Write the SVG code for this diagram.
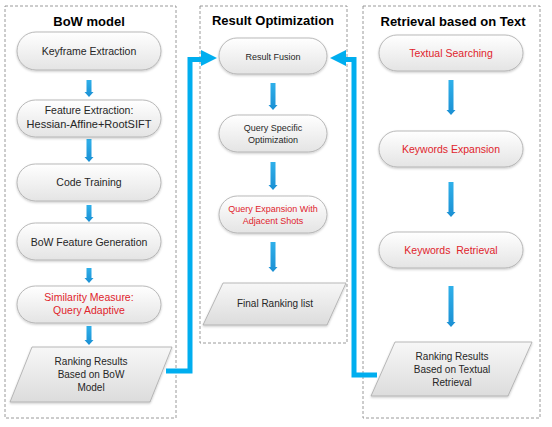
<svg xmlns="http://www.w3.org/2000/svg" width="552" height="427" viewBox="0 0 552 427">
<defs>
<linearGradient id="gNode" x1="0" y1="0" x2="0" y2="1">
<stop offset="0" stop-color="#ffffff"/>
<stop offset="1" stop-color="#e4e4e4"/>
</linearGradient>
<linearGradient id="gPara" x1="0" y1="0" x2="0" y2="1">
<stop offset="0" stop-color="#f7f7f7"/>
<stop offset="1" stop-color="#dcdcdc"/>
</linearGradient>
<linearGradient id="gArr" x1="0" y1="0" x2="0" y2="1">
<stop offset="0" stop-color="#2fb0ea"/>
<stop offset="1" stop-color="#1a8fd3"/>
</linearGradient>
<filter id="sh" x="-10%" y="-20%" width="120%" height="150%">
<feDropShadow dx="0" dy="1.2" stdDeviation="0.9" flood-color="#000" flood-opacity="0.22"/>
</filter>
</defs>
<style>
.panel{fill:none;stroke:#8f8f8f;stroke-width:0.9;stroke-dasharray:3 2}
.node{fill:url(#gNode);stroke:#a8a8a8;stroke-width:0.8;filter:url(#sh)}
.para{fill:url(#gPara);stroke:#a8a8a8;stroke-width:0.8;filter:url(#sh)}
.title{font-family:"Liberation Sans",Arial,sans-serif;font-weight:bold;font-size:13px;fill:#000;text-anchor:middle}
.t{font-family:"Liberation Sans",Arial,sans-serif;font-size:10.5px;fill:#262626;text-anchor:middle}
.s{font-family:"Liberation Sans",Arial,sans-serif;font-size:9px;fill:#262626;text-anchor:middle}
.p{font-family:"Liberation Sans",Arial,sans-serif;font-size:10px;fill:#262626;text-anchor:middle}
.red{fill:#e0242c}
.darr{fill:url(#gArr)}
.bline{fill:none;stroke:#00aeef;stroke-width:5;stroke-linejoin:miter}
.bhead{fill:#00aeef}
</style>

<g id="panels">
<rect id="panel-bow" class="panel" x="5" y="6" width="171" height="412"/>
<rect id="panel-opt" class="panel" x="200" y="6" width="147" height="337"/>
<rect id="panel-text" class="panel" x="363" y="6" width="177" height="412"/>
<text class="title" x="89" y="26">BoW model</text>
<text class="title" x="273" y="25">Result Optimization</text>
<text class="title" x="453" y="26">Retrieval based on Text</text>
</g>

<g id="connectors">
<path class="darr" d="M86.5,80 H91.5 V92 H93.5 L89,97 L84.5,92 H86.5 Z"/>
<path class="darr" d="M86.5,139 H91.5 V157 H93.5 L89,162 L84.5,157 H86.5 Z"/>
<path class="darr" d="M86.5,205 H91.5 V217 H93.5 L89,222 L84.5,217 H86.5 Z"/>
<path class="darr" d="M86.5,268 H91.5 V278 H93.5 L89,283 L84.5,278 H86.5 Z"/>
<path class="darr" d="M86.5,326 H91.5 V340 H93.5 L89,345 L84.5,340 H86.5 Z"/>
<path class="darr" d="M270.5,83 H275.5 V105 H277.5 L273,110 L268.5,105 H270.5 Z"/>
<path class="darr" d="M270.5,162 H275.5 V185 H277.5 L273,190 L268.5,185 H270.5 Z"/>
<path class="darr" d="M270.5,242 H275.5 V267 H277.5 L273,272 L268.5,267 H270.5 Z"/>
<path class="darr" d="M448.5,80 H453.5 V110 H455.5 L451,115 L446.5,110 H448.5 Z"/>
<path class="darr" d="M448.5,182 H453.5 V212 H455.5 L451,217 L446.5,212 H448.5 Z"/>
<path class="darr" d="M448.5,286 H453.5 V322 H455.5 L451,327 L446.5,322 H448.5 Z"/>
<path class="bline" d="M166,371 H190 V59.5 H203"/>
<polygon class="bhead" points="201,50 217,58 201,66"/>
<path class="bline" d="M377,375 H354 V59.5 H344"/>
<polygon class="bhead" points="346,50 330,58 346,66"/>
</g>

<g id="n-keyframe">
<rect class="node" x="17" y="32" width="144" height="38" rx="19"/>
<text class="t" x="89" y="55">Keyframe Extraction</text>
</g>
<g id="n-feature">
<rect class="node" x="17" y="100" width="144" height="37" rx="18.5"/>
<text class="t" x="89" y="114">Feature Extraction:</text>
<text class="t" x="89" y="128" style="font-size:11px">Hessian-Affine+RootSIFT</text>
</g>
<g id="n-code">
<rect class="node" x="17" y="164" width="144" height="37" rx="18.5"/>
<text class="t" x="89" y="186">Code Training</text>
</g>
<g id="n-bowfeat">
<rect class="node" x="17" y="223" width="144" height="37" rx="18.5"/>
<text class="t" x="89" y="246">BoW Feature Generation</text>
</g>
<g id="n-similarity">
<rect class="node" x="17" y="286" width="144" height="37" rx="18.5"/>
<text class="t red" x="89" y="301">Similarity Measure:</text>
<text class="t red" x="89" y="314">Query Adaptive</text>
</g>
<g id="n-rank-bow">
<polygon class="para" points="32,347 172,347 150,402 10,402"/>
<text class="p" x="91" y="365">Ranking Results</text>
<text class="p" x="91" y="378">Based on BoW</text>
<text class="p" x="91" y="391">Model</text>
</g>

<g id="n-fusion">
<rect class="node" x="219" y="38" width="108" height="36" rx="18"/>
<text class="s" x="273" y="60">Result Fusion</text>
</g>
<g id="n-qso">
<rect class="node" x="219" y="115" width="108" height="37" rx="18.5"/>
<text class="s" x="273" y="131">Query Specific</text>
<text class="s" x="273" y="143">Optimization</text>
</g>
<g id="n-qe">
<rect class="node" x="219" y="196" width="108" height="37" rx="18.5"/>
<text class="s red" x="273" y="212">Query Expansion With</text>
<text class="s red" x="273" y="224">Adjacent Shots</text>
</g>
<g id="n-final">
<polygon class="para" points="223,283 346,283 327,325 203,325"/>
<text class="p" x="275" y="307">Final Ranking list</text>
</g>

<g id="n-textual">
<rect class="node" x="379" y="35" width="144" height="36" rx="18"/>
<text class="t red" x="451" y="57">Textual Searching</text>
</g>
<g id="n-kwexp">
<rect class="node" x="379" y="131" width="144" height="36" rx="18"/>
<text class="t red" x="451" y="153">Keywords Expansion</text>
</g>
<g id="n-kwret">
<rect class="node" x="379" y="232" width="144" height="36" rx="18"/>
<text class="t red" x="451" y="254" xml:space="preserve">Keywords  Retrieval</text>
</g>
<g id="n-rank-text">
<polygon class="para" points="395,342 532,342 508,396 371,396"/>
<text class="p" x="452" y="360">Ranking Results</text>
<text class="p" x="452" y="373">Based on Textual</text>
<text class="p" x="452" y="386">Retrieval</text>
</g>
</svg>
